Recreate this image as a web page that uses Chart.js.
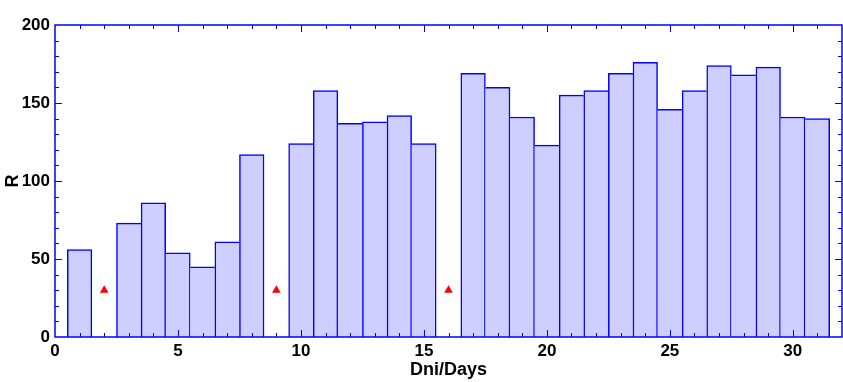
<!DOCTYPE html>
<html>
<head>
<meta charset="utf-8">
<script src="https://cdn.jsdelivr.net/npm/chart.js@4.4.0/dist/chart.umd.min.js"></script>
<style>
  html, body { margin: 0; padding: 0; background: #fff; overflow: hidden; }
  #wrap { width: 843px; height: 382px; }
</style>
</head>
<body>
<div id="wrap"><canvas id="dniChart"></canvas></div>
<script>
// daily values (days 2, 9 and 16 are missing)
const days = [1, 3, 4, 5, 6, 7, 8, 10, 11, 12, 13, 14, 15, 17, 18, 19, 20, 21, 22, 23, 24, 25, 26, 27, 28, 29, 30, 31];
const rValues = [56, 73, 86, 54, 45, 61, 117, 124, 158, 137, 138, 142, 124, 169, 160, 141, 123, 155, 158, 169, 176, 146, 158, 174, 168, 173, 141, 140];
const missingDays = [2, 9, 16];
const missingLevel = [30, 30, 30];
const xTicks = [0, 5, 10, 15, 20, 25, 30];
const yTicks = [0, 50, 100, 150, 200];

const blue = '#0000ff';
const fontFamily = '"Liberation Sans", Arial, sans-serif';
const tickFont = { family: fontFamily, size: 17, weight: 'bold' };

function valueOnDay(d) {
    var i = days.indexOf(d);
    return i === -1 ? null : rValues[i];
}

// shared edge between two bars is drawn once, by the taller bar
function barBorder(c) {
    var d = days[c.dataIndex];
    var v = rValues[c.dataIndex];
    var prev = valueOnDay(d - 1);
    var next = valueOnDay(d + 1);
    var w = 1.5;
    return {
        top: w,
        bottom: 0,
        left: (prev === null || prev < v) ? w : 0,
        right: (next === null || next <= v) ? w : 0
    };
}

// frame + inward ticks, like the original plot
const frameTicks = {
    id: 'frameTicks',
    afterDraw(chart) {
        const ctx = chart.ctx;
        const a = chart.chartArea;
        const xs = chart.scales.x;
        const ys = chart.scales.y;
        ctx.save();
        ctx.strokeStyle = blue;
        ctx.lineWidth = 1.5;
        ctx.strokeRect(a.left, a.top, a.right - a.left, a.bottom - a.top);
        ctx.lineWidth = 1;
        ctx.beginPath();
        for (var d = 1; d < 32; d++) {
            var px = Math.round(xs.getPixelForValue(d)) + 0.5;
            var len = (d % 5 === 0) ? 7 : 4;
            ctx.moveTo(px, a.bottom); ctx.lineTo(px, a.bottom - len);
            ctx.moveTo(px, a.top); ctx.lineTo(px, a.top + len);
        }
        for (var v = 10; v < 200; v += 10) {
            var py = Math.round(ys.getPixelForValue(v)) + 0.5;
            var l = (v % 50 === 0) ? 7 : 4;
            ctx.moveTo(a.left, py); ctx.lineTo(a.left + l, py);
            ctx.moveTo(a.right, py); ctx.lineTo(a.right - l, py);
        }
        ctx.stroke();
        ctx.restore();
    }
};

const ctx = document.getElementById('dniChart').getContext('2d');
const dniChart = new Chart(ctx, {
    data: {
        datasets: [{
            type: 'bar',
            label: 'R',
            data: days.map(function(d, i) { return { x: d, y: rValues[i] }; }),
            backgroundColor: 'rgb(207,207,255)',
            borderColor: blue,
            borderWidth: barBorder,
            borderSkipped: false,
            barPercentage: 1.0,
            categoryPercentage: 1.0,
            order: 2
        }, {
            type: 'scatter',
            label: 'missing',
            data: missingDays.map(function(d, i) { return { x: d, y: missingLevel[i] }; }),
            pointStyle: 'triangle',
            pointRadius: 5,
            backgroundColor: '#ff0000',
            borderColor: '#ff0000',
            borderWidth: 0,
            order: 1
        }]
    },
    options: {
        responsive: true,
        maintainAspectRatio: false,
        animation: false,
        layout: { autoPadding: false, padding: { top: 25, right: 1, left: 0, bottom: 0 } },
        plugins: {
            legend: { display: false },
            tooltip: { enabled: false }
        },
        scales: {
            x: {
                type: 'linear',
                min: 0,
                max: 32,
                offset: false,
                grid: { display: false, drawTicks: false },
                border: { display: false },
                afterBuildTicks: function(scale) {
                    scale.ticks = xTicks.map(function(v) { return { value: v }; });
                },
                afterFit: function(scale) { scale.height = 45; },
                ticks: { color: '#000', font: tickFont, padding: 4, maxRotation: 0 },
                title: {
                    display: true,
                    text: 'Dni/Days',
                    color: '#000',
                    font: { family: fontFamily, size: 18, weight: 'bold' },
                    padding: { top: 0, bottom: 1 }
                }
            },
            y: {
                min: 0,
                max: 200,
                grid: { display: false, drawTicks: false },
                border: { display: false },
                afterBuildTicks: function(scale) {
                    scale.ticks = yTicks.map(function(v) { return { value: v }; });
                },
                afterFit: function(scale) { scale.width = 55; },
                ticks: { color: '#000', font: tickFont, padding: 5 },
                title: {
                    display: true,
                    text: 'R',
                    color: '#000',
                    font: { family: fontFamily, size: 18, weight: 'bold' },
                    padding: { top: 2, bottom: 0 }
                }
            }
        }
    },
    plugins: [frameTicks]
});
</script>
</body>
</html>
